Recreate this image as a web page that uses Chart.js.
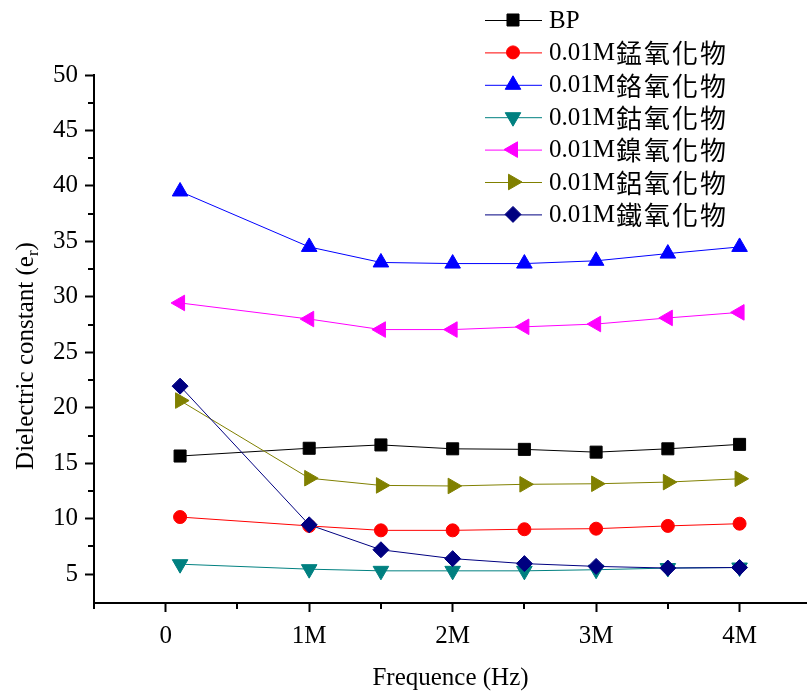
<!DOCTYPE html>
<html>
<head>
<meta charset="utf-8">
<script src="https://cdn.jsdelivr.net/npm/chart.js@4.4.0/dist/chart.umd.min.js"></script>
<style>
  html, body { margin: 0; padding: 0; background: #fff; }
  #wrap { width: 807px; height: 693px; }
</style>
</head>
<body>
<div id="wrap"><canvas id="chart" width="807" height="693"></canvas></div>
<script>
// frequencies (Hz) and dielectric constant per sample
const freqs = [0.1e6, 1e6, 1.5e6, 2e6, 2.5e6, 3e6, 3.5e6, 4e6];
const bp   = [15.65, 16.35, 16.65, 16.3, 16.25, 16.0, 16.3, 16.7];
const mnO  = [10.15, 9.35, 8.95, 8.95, 9.05, 9.1, 9.35, 9.55];
const crO  = [39.5, 34.5, 33.1, 33.0, 33.0, 33.25, 33.9, 34.5];
const coO  = [5.9, 5.45, 5.3, 5.3, 5.3, 5.4, 5.55, 5.6];
const niO  = [29.45, 28.0, 27.05, 27.05, 27.3, 27.55, 28.1, 28.6];
const alO  = [20.65, 13.65, 13.0, 12.95, 13.1, 13.15, 13.3, 13.6];
const feO  = [21.95, 9.45, 7.2, 6.4, 5.95, 5.7, 5.55, 5.6];

const seriesPrefix = ['BP', '0.01M', '0.01M', '0.01M', '0.01M', '0.01M', '0.01M'];
const seriesSuffix = ['', '錳氧化物', '鉻氧化物', '鈷氧化物', '鎳氧化物', '鋁氧化物', '鐵氧化物'];

const xTicks = [0, 1e6, 2e6, 3e6, 4e6];
const xMinorTicks = [-0.5e6, 0.5e6, 1.5e6, 2.5e6, 3.5e6];
const yTicks = [5, 10, 15, 20, 25, 30, 35, 40, 45, 50];
const yMinorTicks = [7.5, 12.5, 17.5, 22.5, 27.5, 32.5, 37.5, 42.5, 47.5];

const SERIF = '"Liberation Serif", "Times New Roman", serif';
const CJK = '"Noto Sans CJK TC", "Noto Sans CJK SC", sans-serif';

const styles = [
  { color: '#000000', point: 'rect',     radius: 8.5, rotation: 0 },
  { color: '#ff0000', point: 'circle',   radius: 6.5, rotation: 0 },
  { color: '#0000ff', point: 'triangle', radius: 9,   rotation: 0 },
  { color: '#008080', point: 'triangle', radius: 9,   rotation: 180 },
  { color: '#ff00ff', point: 'triangle', radius: 9,   rotation: 270 },
  { color: '#808000', point: 'triangle', radius: 9,   rotation: 90 },
  { color: '#000080', point: 'rectRot',  radius: 8,   rotation: 0 }
];

const allSeries = [bp, mnO, crO, coO, niO, alO, feO];

const datasets = allSeries.map((vals, i) => ({
  label: seriesPrefix[i] + seriesSuffix[i],
  data: vals.map((v, j) => ({ x: freqs[j], y: v })),
  borderColor: styles[i].color,
  backgroundColor: styles[i].color,
  borderWidth: 1,
  pointStyle: styles[i].point,
  pointRadius: styles[i].radius,
  pointRotation: styles[i].rotation,
  pointBorderWidth: 1,
  pointBorderColor: styles[i].color,
  pointBackgroundColor: styles[i].color,
  tension: 0,
  order: allSeries.length - i
}));

// minor ticks, y title with subscript, and the line+marker legend
const extrasPlugin = {
  id: 'extras',
  afterDraw(chart) {
    const ctx = chart.ctx;
    const xs = chart.scales.x;
    const ys = chart.scales.y;
    const area = chart.chartArea;
    ctx.save();
    ctx.strokeStyle = '#000';
    ctx.lineWidth = 2;
    ctx.beginPath();
    xMinorTicks.forEach(v => {
      const px = Math.round(xs.getPixelForValue(v));
      ctx.moveTo(px, area.bottom);
      ctx.lineTo(px, area.bottom + 6);
    });
    yMinorTicks.forEach(v => {
      const py = Math.round(ys.getPixelForValue(v));
      ctx.moveTo(area.left, py);
      ctx.lineTo(area.left - 6, py);
    });
    ctx.stroke();

    // y axis title: Dielectric constant (e_r)
    ctx.fillStyle = '#000';
    ctx.translate(33, 356);
    ctx.rotate(-Math.PI / 2);
    ctx.textBaseline = 'alphabetic';
    const big = '25px ' + SERIF;
    const small = '17px ' + SERIF;
    const part1 = 'Dielectric constant (e';
    const part2 = 'r';
    const part3 = ')';
    ctx.font = big;
    const w1 = ctx.measureText(part1).width;
    const w3 = ctx.measureText(part3).width;
    ctx.font = small;
    const w2 = ctx.measureText(part2).width;
    let tx = -(w1 + w2 + w3) / 2;
    ctx.font = big;
    ctx.fillText(part1, tx, 0);
    tx += w1;
    ctx.font = small;
    ctx.fillText(part2, tx, 5);
    tx += w2;
    ctx.font = big;
    ctx.fillText(part3, tx, 0);
    ctx.restore();

    // legend
    ctx.save();
    ctx.textBaseline = 'middle';
    ctx.textAlign = 'left';
    chart.data.datasets.forEach((ds, i) => {
      const y = 20 + i * 32.4;
      ctx.strokeStyle = ds.borderColor;
      ctx.lineWidth = 1;
      ctx.beginPath();
      ctx.moveTo(485, y + 0.5);
      ctx.lineTo(542, y + 0.5);
      ctx.stroke();
      ctx.fillStyle = ds.pointBackgroundColor;
      ctx.strokeStyle = ds.pointBorderColor;
      Chart.helpers.drawPoint(ctx, {
        pointStyle: ds.pointStyle,
        rotation: ds.pointRotation,
        radius: ds.pointRadius,
        borderWidth: 1
      }, 513, y);
      ctx.fillStyle = '#000';
      ctx.font = '25px ' + SERIF;
      ctx.fillText(seriesPrefix[i], 549, y + 1);
      let cx = 549 + ctx.measureText(seriesPrefix[i]).width + 1;
      ctx.font = '26px ' + CJK;
      for (const ch of seriesSuffix[i]) {
        ctx.fillText(ch, cx, y + 1);
        cx += 28;
      }
    });
    ctx.restore();
  }
};

new Chart(document.getElementById('chart'), {
  type: 'line',
  data: { datasets },
  options: {
    responsive: false,
    animation: false,
    devicePixelRatio: 1,
    layout: { autoPadding: false, padding: { top: 75, right: 0, left: 0, bottom: 0 } },
    plugins: {
      legend: { display: false },
      tooltip: { enabled: false }
    },
    scales: {
      x: {
        type: 'linear',
        min: -0.5e6,
        max: 4.47e6,
        afterBuildTicks(scale) { scale.ticks = xTicks.map(v => ({ value: v })); },
        afterFit(scale) { scale.height = 90; },
        border: { display: true, color: '#000', width: 2 },
        grid: { display: true, drawOnChartArea: false, drawTicks: true, tickLength: 9, tickWidth: 2, tickColor: '#000' },
        ticks: {
          color: '#000',
          padding: 9,
          maxRotation: 0,
          font: { family: SERIF, size: 25 },
          callback: v => v === 0 ? '0' : (v / 1e6) + 'M'
        },
        title: {
          display: true,
          text: 'Frequence (Hz)',
          color: '#000',
          font: { family: SERIF, size: 25 },
          padding: { top: 0, bottom: 0 }
        }
      },
      y: {
        type: 'linear',
        min: 2.4,
        max: 50,
        afterBuildTicks(scale) { scale.ticks = yTicks.map(v => ({ value: v })); },
        afterFit(scale) { scale.width = 94; },
        border: { display: true, color: '#000', width: 2 },
        grid: { display: true, drawOnChartArea: false, drawTicks: true, tickLength: 9, tickWidth: 2, tickColor: '#000' },
        ticks: {
          color: '#000',
          padding: 7,
          font: { family: SERIF, size: 25 }
        }
      }
    }
  },
  plugins: [extrasPlugin]
});
</script>
</body>
</html>
